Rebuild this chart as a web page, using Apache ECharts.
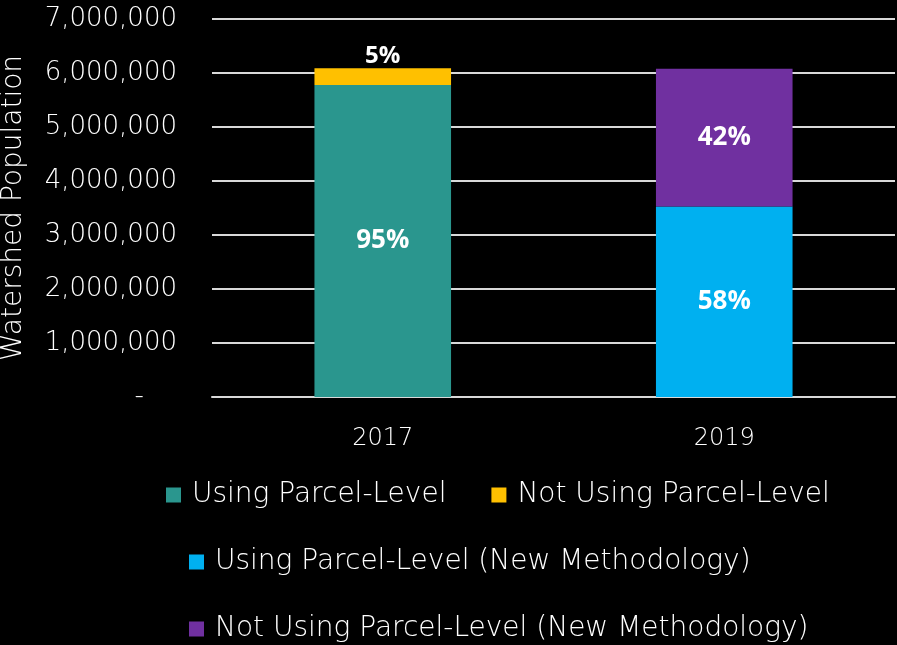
<!DOCTYPE html>
<html>
<head>
<meta charset="utf-8">
<script src="https://cdn.jsdelivr.net/npm/echarts@6/dist/echarts.min.js"></script>
<style>
  html, body { margin: 0; padding: 0; background: #000; }
  #chart { width: 897px; height: 645px; }
</style>
</head>
<body>
<div id="chart"></div>
<script>
// 数据
const years = ['2017', '2019'];
const seriesNames = [
  'Using Parcel-Level',
  'Not Using Parcel-Level',
  'Using Parcel-Level (New Methodology)',
  'Not Using Parcel-Level (New Methodology)'
];
const usingOld = [5780000, null];
const notUsingOld = [310000, null];
const usingNew = [null, 3530000];
const notUsingNew = [null, 2550000];
const pctOld = ['95%', '5%'];
const pctNew = ['58%', '42%'];

const FONT = '"DejaVu Sans", sans-serif';
const BOLD_FONT = '"Open Sans", sans-serif';
const colors = ['#2a968e', '#ffc000', '#00b0f0', '#7030a0'];

let myChart = echarts.init(document.getElementById('chart'));

function fmt(v) {
  if (v === 0) return '-    ';
  return v.toString().replace(/\B(?=(\d{3})+(?!\d))/g, ',');
}

function insideLabel(txt) {
  return {
    show: true,
    position: 'inside',
    color: '#fff',
    fontSize: 26,
    fontWeight: 'bold',
    fontFamily: BOLD_FONT,
    formatter: () => txt
  };
}

const legendText = { color: '#fff', fontSize: 28, fontFamily: FONT, fontWeight: 200, padding: [0, 0, 0, 6] };

myChart.setOption({
  backgroundColor: '#000',
  color: colors,
  animation: false,
  grid: { left: 212, right: 2, top: 19, bottom: 248, outerBoundsMode: 'none' },
  legend: [
    {
      data: [seriesNames[0], seriesNames[1]],
      left: 161, top: 476,
      itemWidth: 15, itemHeight: 15, itemGap: 45,
      icon: 'rect',
      textStyle: legendText
    },
    {
      data: [seriesNames[2]],
      left: 184, top: 543,
      itemWidth: 15, itemHeight: 15,
      icon: 'rect',
      textStyle: legendText
    },
    {
      data: [seriesNames[3]],
      left: 184, top: 610,
      itemWidth: 15, itemHeight: 15,
      icon: 'rect',
      textStyle: legendText
    }
  ],
  xAxis: {
    type: 'category',
    data: years,
    axisLine: { show: true, lineStyle: { color: '#d9d9d9', width: 2 } },
    axisTick: { show: false },
    axisLabel: { color: '#fff', fontSize: 24, fontFamily: FONT, fontWeight: 200, margin: 30 }
  },
  yAxis: {
    type: 'value',
    min: 0, max: 7000000, interval: 1000000,
    name: 'Watershed Population',
    nameLocation: 'middle',
    nameGap: 184,
    nameTextStyle: { color: '#fff', fontSize: 28, fontFamily: FONT, fontWeight: 200 },
    axisLine: { show: false },
    axisTick: { show: false },
    splitLine: { lineStyle: { color: '#d9d9d9', width: 2 } },
    axisLabel: {
      color: '#fff', fontSize: 26, fontFamily: FONT, fontWeight: 200, margin: 35,
      formatter: fmt
    }
  },
  series: [
    {
      name: seriesNames[0], type: 'bar', stack: 'total',
      data: usingOld, barWidth: '40%',
      label: insideLabel(pctOld[0])
    },
    {
      name: seriesNames[1], type: 'bar', stack: 'total',
      data: notUsingOld, barWidth: '40%',
      label: {
        show: true, position: 'top', distance: 0,
        color: '#fff', fontSize: 24, fontFamily: BOLD_FONT, fontWeight: 'bold',
        formatter: () => pctOld[1]
      }
    },
    {
      name: seriesNames[2], type: 'bar', stack: 'total',
      data: usingNew, barWidth: '40%',
      label: insideLabel(pctNew[0])
    },
    {
      name: seriesNames[3], type: 'bar', stack: 'total',
      data: notUsingNew, barWidth: '40%',
      label: insideLabel(pctNew[1])
    }
  ]
});

window.addEventListener('resize', () => { if (myChart) myChart.resize(); });
</script>
</body>
</html>
